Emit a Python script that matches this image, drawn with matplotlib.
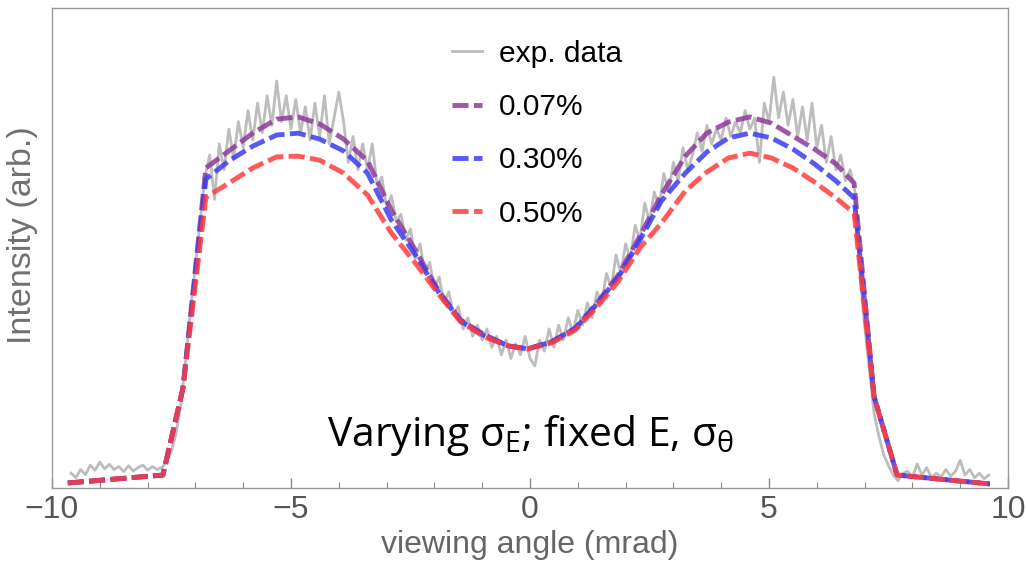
import numpy as np
from matplotlib import pyplot as plt
from matplotlib.ticker import MultipleLocator

plt.rcParams['font.family'] = ['Liberation Sans', 'DejaVu Sans']

# model curves (shared nodes)
x_model = [-9.67, -7.68, -7.26, -6.78, -6.3, -5.8, -5.3, -4.85, -4.4, -3.9, -3.4,
           -2.9, -2.4, -1.9, -1.45, -0.95, -0.45, -0.05, 0.45, 0.95, 1.4, 1.85,
           2.3, 2.75, 3.25, 3.7, 4.15, 4.6, 5.05, 5.5, 5.95, 6.4, 6.78, 7.2, 7.68, 9.62]

sig_007 = [0.0135, 0.035, 0.270, 0.865, 0.911, 0.959, 0.997, 1.003, 0.984, 0.943, 0.884,
           0.751, 0.643, 0.530, 0.454, 0.414, 0.384, 0.376, 0.395, 0.432, 0.500, 0.576,
           0.681, 0.793, 0.897, 0.959, 0.989, 1.003, 0.986, 0.951, 0.916, 0.876, 0.824, 0.246, 0.035, 0.011]

sig_030 = [0.0135, 0.035, 0.270, 0.835, 0.884, 0.924, 0.954, 0.959, 0.943, 0.911, 0.851,
           0.724, 0.630, 0.527, 0.451, 0.411, 0.384, 0.376, 0.395, 0.432, 0.497, 0.570,
           0.670, 0.776, 0.851, 0.908, 0.946, 0.959, 0.946, 0.916, 0.876, 0.830, 0.784, 0.246, 0.035, 0.011]

sig_050 = [0.0135, 0.035, 0.270, 0.786, 0.824, 0.865, 0.895, 0.897, 0.886, 0.851, 0.792,
           0.689, 0.608, 0.522, 0.449, 0.408, 0.384, 0.376, 0.392, 0.427, 0.489, 0.559,
           0.649, 0.716, 0.803, 0.854, 0.892, 0.905, 0.892, 0.865, 0.827, 0.784, 0.743, 0.246, 0.035, 0.011]

# measured profile, -9.6 ... 9.6 mrad in 0.1 steps
exp_y = [
    0.040, 0.028, 0.050, 0.036, 0.062, 0.048, 0.070, 0.052, 0.064, 0.050,
    0.058, 0.044, 0.060, 0.046, 0.055, 0.062, 0.048, 0.058, 0.050, 0.056,
    0.070, 0.100, 0.150, 0.230, 0.350, 0.480, 0.600, 0.720, 0.840,
    0.90, 0.78, 0.93, 0.86, 0.97, 0.89, 0.99, 0.92, 1.02, 0.94,
    1.04, 0.96, 1.06, 0.98, 1.10, 0.99, 1.06, 0.97, 1.05, 0.96,
    1.03, 0.94, 1.04, 0.95, 1.06, 0.93, 1.00, 1.07, 0.99, 0.88,
    0.95, 0.86, 0.93, 0.86,
    0.93, 0.82, 0.84, 0.76, 0.79, 0.72, 0.74, 0.67, 0.70, 0.62,
    0.66, 0.58, 0.61, 0.54, 0.57, 0.50, 0.53, 0.47, 0.49,
    0.43, 0.46, 0.41, 0.44, 0.40, 0.43, 0.38, 0.41, 0.36, 0.40,
    0.35, 0.39, 0.36, 0.41, 0.35, 0.33, 0.40, 0.37, 0.43, 0.38,
    0.44, 0.40, 0.46, 0.42, 0.48, 0.44, 0.50, 0.46, 0.53,
    0.50, 0.58, 0.54, 0.63, 0.58, 0.66, 0.62, 0.71, 0.67, 0.77,
    0.72, 0.80, 0.76, 0.85, 0.80, 0.88, 0.83, 0.92, 0.86,
    0.90, 0.96, 0.91, 0.98, 0.93, 0.97, 0.94, 1.00, 0.95, 0.99,
    0.96, 1.02, 0.97, 1.00, 0.88, 1.04, 0.99, 1.11, 1.00, 1.07,
    0.98, 1.05, 0.95, 1.03, 0.94, 1.04, 0.92, 0.98, 0.88, 0.95,
    0.86, 0.90, 0.83, 0.86,
    0.80, 0.58, 0.44, 0.32, 0.20, 0.14, 0.09, 0.06, 0.035, 0.02, 0.04,
    0.045, 0.030, 0.065, 0.035, 0.055, 0.028, 0.040, 0.030, 0.050, 0.032,
    0.045, 0.075, 0.035, 0.050, 0.028, 0.040, 0.025, 0.035,
]
exp_x = np.linspace(-9.6, 9.6, len(exp_y))

labels = ['exp. data', '0.07%', '0.30%', '0.50%']
colors = ['#bdbdbd', '#8e3a9a', '#3b3bf5', '#ff3c3c']

fig = plt.figure(figsize=(10.26, 5.65), dpi=100)
ax = fig.add_axes([52/1026, 77/565, 956/1026, 480/565])

ax.plot(exp_x, exp_y, color=colors[0], lw=2.0, label=labels[0])
for ys, c, lab in zip([sig_007, sig_030, sig_050], colors[1:], labels[1:]):
    ax.plot(x_model, ys, color=c, lw=3.5, alpha=0.85, dashes=(3.3, 1.1), label=lab)

ax.set_xlim(-10, 10)
ax.set_ylim(0, 480/370)
ax.xaxis.set_major_locator(MultipleLocator(5))
ax.xaxis.set_minor_locator(MultipleLocator(1))
ax.set_yticks([])
ax.tick_params(axis='x', which='major', direction='in', length=7, width=1, color='#888888',
               labelsize=23, labelcolor='#555555', pad=5)
ax.tick_params(axis='x', which='minor', direction='in', length=4, width=0.8, color='#888888')
for s in ax.spines.values():
    s.set_color('#999999')
    s.set_linewidth(1)

ax.set_xlabel('viewing angle (mrad)', fontsize=23, color='#666666', labelpad=4)
ax.set_ylabel('Intensity (arb.)', fontsize=24.5, color='#707070')
ax.yaxis.set_label_coords(-0.015, 0.527)

ax.legend(loc='upper left', bbox_to_anchor=(0.39, 0.99), frameon=False, fontsize=21.5,
          handlelength=1.0, labelspacing=0.85, handletextpad=0.57)

ax.text(0, 0.11, r'Varying $\mathregular{σ_E}$; fixed E, $\mathregular{σ_θ}$',
        ha='center', va='center', fontsize=29.4, family=['Open Sans', 'DejaVu Sans'],
        transform=ax.get_xaxis_transform())

fig.savefig('out.png', dpi=100)
